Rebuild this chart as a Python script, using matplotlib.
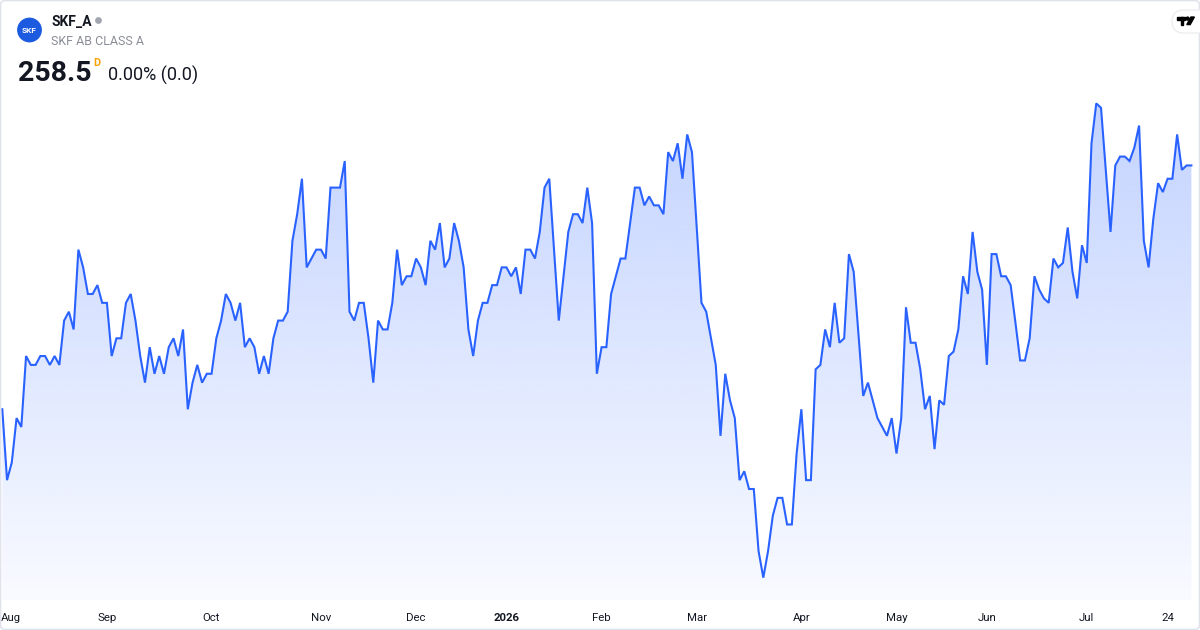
import numpy as np
import pandas as pd
import matplotlib
matplotlib.use("Agg")
import matplotlib.pyplot as plt
from matplotlib.patches import Circle, FancyBboxPatch, Polygon, Rectangle
import matplotlib.transforms as mtransforms

# ---------------- data ----------------
ticker = "SKF_A"
company = "SKF AB CLASS A"
last_price_text = "258.5"
change_text = "0.00% (0.0)"
interval_text = "D"

prices = [
    231.0, 223.0, 225.0, 230.0, 229.0, 237.0, 236.0, 236.0, 237.0, 237.0,
    236.0, 237.0, 236.0, 241.0, 242.0, 240.0, 249.0, 247.0, 244.0, 244.0,
    245.0, 243.0, 243.0, 237.0, 239.0, 239.0, 243.0, 244.0, 241.0, 237.0,
    234.0, 238.0, 235.0, 237.0, 235.0, 238.0, 239.0, 237.0, 240.0, 231.0,
    234.0, 236.0, 234.0, 235.0, 235.0, 239.0, 241.0, 244.0, 243.0, 241.0,
    243.0, 238.0, 239.0, 238.0, 235.0, 237.0, 235.0, 239.0, 241.0, 241.0,
    242.0, 250.0, 253.0, 257.0, 247.0, 248.0, 249.0, 249.0, 248.0, 256.0,
    256.0, 256.0, 259.0, 242.0, 241.0, 243.0, 243.0, 239.0, 234.0, 241.0,
    240.0, 240.0, 243.0, 249.0, 245.0, 246.0, 246.0, 248.0, 247.0, 245.0,
    250.0, 249.0, 252.0, 247.0, 248.0, 252.0, 250.0, 247.0, 240.0, 237.0,
    241.0, 243.0, 243.0, 245.0, 245.0, 247.0, 247.0, 246.0, 247.0, 244.0,
    249.0, 249.0, 248.0, 251.0, 256.0, 257.0, 249.0, 241.0, 246.0, 251.0,
    253.0, 253.0, 252.0, 256.0, 252.0, 235.0, 238.0, 238.0, 244.0, 246.0,
    248.0, 248.0, 252.0, 256.0, 256.0, 254.0, 255.0, 254.0, 254.0, 253.0,
    260.0, 259.0, 261.0, 257.0, 262.0, 260.0, 251.5, 243.0, 242.0, 239.0,
    236.0, 228.0, 235.0, 232.0, 230.0, 223.0, 224.0, 222.0, 222.0, 215.0,
    212.0, 215.0, 219.0, 221.0, 221.0, 218.0, 218.0, 226.0, 231.0, 223.0,
    223.0, 235.5, 236.0, 240.0, 238.0, 243.0, 238.5, 239.0, 248.5, 246.5,
    239.5, 232.5, 234.0, 232.0, 230.0, 229.0, 228.0, 230.0, 226.0, 230.0,
    242.5, 238.5, 238.5, 235.5, 231.0, 232.5, 226.5, 232.0, 231.5, 237.0,
    237.5, 240.0, 246.0, 244.0, 251.0, 246.5, 244.5, 236.0, 248.5, 248.5,
    246.0, 246.0, 245.0, 240.8, 236.5, 236.5, 239.0, 246.0, 244.5, 243.5,
    243.0, 248.0, 247.0, 247.5, 251.5, 246.5, 243.5, 249.5, 247.5, 261.0,
    265.5, 265.0, 258.0, 251.0, 258.5, 259.5, 259.5, 259.0, 260.5, 263.0,
    250.0, 247.0, 252.5, 256.5, 255.5, 257.0, 257.0, 262.0, 258.0, 258.5,
    258.5,
]

start_date = "2025-07-31"
end_date = "2026-07-31"
se_holidays = ["2025-12-24", "2025-12-25", "2025-12-26", "2025-12-31",
               "2026-01-01", "2026-01-06", "2026-04-03", "2026-04-06",
               "2026-05-01", "2026-05-14", "2026-06-19"]
extra_day_labels = ["2026-07-24"]

# ---------------- build ----------------
dates = pd.bdate_range(start_date, end_date, freq="C", holidays=se_holidays)
n = min(len(dates), len(prices))
dates = dates[:n]
y = np.array(prices[:n])
x = np.arange(n)

LINE = "#2962FF"
TEXT = "#131722"

fig = plt.figure(figsize=(12, 6.3), dpi=100)
fig.patch.set_facecolor("white")

W, H = 1200, 630
ax = fig.add_axes([1 / W, 1 - 600 / H, 1198 / W, 599 / H])
ax.set_facecolor("white")
for s in ax.spines.values():
    s.set_visible(False)
ax.set_xticks([])
ax.set_yticks([])
XLIM = (-0.27, n - 1 + 1.6)
YLIM = (209.48, 277.05)
ax.set_xlim(*XLIM)
ax.set_ylim(*YLIM)

# gradient fill under the line
ybot = YLIM[0]
poly = ax.fill_between(x, y, ybot, facecolor="none", edgecolor="none")
top_alpha, bot_alpha = 0.28, 0.03
grad = np.linspace(top_alpha, bot_alpha, 256)
rgba = np.zeros((256, 1, 4))
rgba[..., 0] = 41 / 255
rgba[..., 1] = 98 / 255
rgba[..., 2] = 1.0
rgba[:, 0, 3] = grad
im = ax.imshow(rgba, extent=[x[0], x[-1], ybot, y.max()], aspect="auto",
               origin="upper", zorder=1, interpolation="bicubic")
im.set_clip_path(poly.get_paths()[0], transform=ax.transData)
ax.set_xlim(*XLIM)
ax.set_ylim(*YLIM)

ax.plot(x, y, color=LINE, lw=1.5, zorder=3, solid_joinstyle="miter")

# x axis labels (first trading day of each month)
trans = mtransforms.blended_transform_factory(ax.transData, ax.transAxes)
s_dates = pd.Series(dates)
months = s_dates.dt.to_period("M")
first_idx = [i for i in range(1, n) if months.iloc[i] != months.iloc[i - 1]]
for k, i in enumerate(first_idx):
    d = dates[i]
    if d.month == 1:
        lab, fw = str(d.year), "bold"
    else:
        lab, fw = d.strftime("%b"), "normal"
    if k == 0:
        ax.text(XLIM[0], -0.030, lab, transform=trans, ha="left",
                va="center", fontsize=8.2, color=TEXT, fontweight=fw,
                family="Roboto", clip_on=False)
    else:
        ax.text(i, -0.030, lab, transform=trans, ha="center", va="center",
                fontsize=8.2, color=TEXT, fontweight=fw, family="Roboto",
                clip_on=False)
for ds in extra_day_labels:
    d = pd.Timestamp(ds)
    if d in dates:
        i = dates.get_loc(d)
        ax.text(i, -0.030, str(d.day), transform=trans, ha="center",
                va="center", fontsize=8.2, color=TEXT, family="Roboto",
                clip_on=False)

# ---------------- overlay (header, logo, border) ----------------
ov = fig.add_axes([0, 0, 1, 1], facecolor="none")
ov.set_xlim(0, W)
ov.set_ylim(H, 0)
ov.axis("off")

ov.add_patch(FancyBboxPatch((0.5, 0.5), W - 1, H - 1,
                            boxstyle="round,pad=0,rounding_size=5",
                            fc="none", ec="#E0E3EB", lw=1.2))

ov.add_patch(Circle((29.5, 30), 11.7, color="#1C5BE0"))
ov.text(29.5, 30.5, "SKF", color="white", fontsize=6.0, fontweight="bold",
        ha="center", va="center", family="Roboto")

ov.text(51, 26, ticker, fontsize=10.0, fontweight="bold", color=TEXT,
        family="Roboto", va="baseline", ha="left")
ov.add_patch(Circle((98.5, 20.5), 2.7, color="#A3A6AF"))
ov.text(51, 45, company, fontsize=9.0, color="#8A8D96", family="Roboto",
        va="baseline", ha="left")

ov.text(18, 81, last_price_text, fontsize=20.5, fontweight="bold",
        color=TEXT, family="Roboto", va="baseline", ha="left")
ov.text(93.5, 65.5, interval_text, fontsize=7.8, fontweight="bold",
        color="#F7A000", family="Roboto", va="baseline", ha="left")
ov.text(108, 81, change_text, fontsize=13, color=TEXT, family="Roboto",
        va="baseline", ha="left")

# TradingView logo badge
ov.add_patch(FancyBboxPatch((1172, 10), 40, 23,
                            boxstyle="round,pad=0,rounding_size=11.5",
                            fc="white", ec="#EDEEF1", lw=1.0, zorder=5))
ov.add_patch(Rectangle((1177, 17), 8.2, 2.6, color="black", zorder=6))
ov.add_patch(Rectangle((1180.8, 17), 2.6, 7.6, color="black", zorder=6))
ov.add_patch(Circle((1187.6, 18.6), 1.5, color="black", zorder=6))
ov.add_patch(Polygon([(1191, 17), (1194.4, 17), (1190.2, 24.6), (1186.8, 24.6)],
                     closed=True, color="black", zorder=6))

fig.savefig("out.png", dpi=100, facecolor="white")
